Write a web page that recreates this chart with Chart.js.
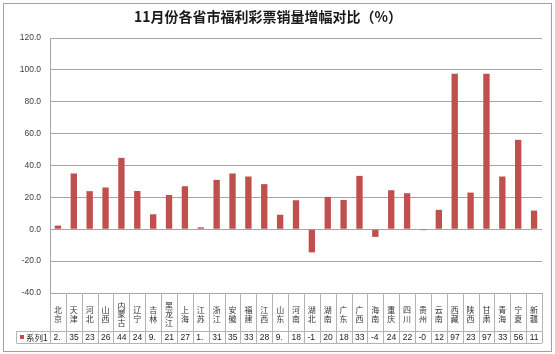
<!DOCTYPE html>
<html>
<head>
<meta charset="utf-8">
<title>11月份各省市福利彩票销量增幅对比</title>
<script src="https://cdn.jsdelivr.net/npm/chart.js@4/dist/chart.umd.min.js"></script>
<style>
    html, body { margin: 0; padding: 0; background: #fff; }
    #wrap { width: 555px; height: 354px; }
</style>
</head>
<body>
<div id="wrap"><canvas id="growthChart" width="555" height="354"></canvas></div>
<script>
// 차트 데이터
const chartTitle = '11月份各省市福利彩票销量增幅对比（%）';
const seriesName = '系列1';
const provinces = ['北京', '天津', '河北', '山西', '内蒙古', '辽宁', '吉林', '黑龙江', '上海', '江苏',
    '浙江', '安徽', '福建', '江西', '山东', '河南', '湖北', '湖南', '广东', '广西',
    '海南', '重庆', '四川', '贵州', '云南', '西藏', '陕西', '甘肃', '青海', '宁夏', '新疆'];
const growth = [2.3, 35.0, 23.9, 26.2, 44.8, 24.0, 9.4, 21.5, 27.0, 1.2,
    31.0, 35.0, 33.1, 28.3, 9.1, 18.2, -14.5, 20.3, 18.4, 33.5,
    -4.8, 24.5, 22.6, -0.6, 12.2, 97.6, 23.0, 97.5, 33.1, 56.1, 11.7];
const yTicks = [-40, -20, 0, 20, 40, 60, 80, 100, 120];

const barColor = '#c0504d';
const lineColor = '#a6a6a6';
const numFont = '"Liberation Sans", Arial, sans-serif';
const cjkFont = '"Noto Sans CJK SC", sans-serif';

// 아래쪽 데이터 표, 제목, 테두리 그리기
const dataTablePlugin = {
    id: 'dataTable',
    afterDraw(chart) {
        const c = chart.ctx;
        const area = chart.chartArea;
        const xScale = chart.scales.x;
        const top = area.bottom;
        const rowTop = xScale.bottom;
        const rowBottom = rowTop + 12;
        const cellW = (area.right - area.left) / provinces.length;
        const keyLeft = 16;

        c.save();
        c.strokeStyle = '#b4b4b4';
        c.lineWidth = 1;
        c.beginPath();
        for (let i = 0; i <= provinces.length; i++) {
            const px = Math.round(area.left + i * cellW) + 0.5;
            c.moveTo(px, top);
            c.lineTo(px, rowBottom);
        }
        c.moveTo(keyLeft + 0.5, rowTop + 0.5);
        c.lineTo(area.right, rowTop + 0.5);
        c.moveTo(keyLeft + 0.5, rowBottom + 0.5);
        c.lineTo(area.right, rowBottom + 0.5);
        c.moveTo(keyLeft + 0.5, rowTop);
        c.lineTo(keyLeft + 0.5, rowBottom);
        c.stroke();

        // 범례 칸
        c.fillStyle = barColor;
        c.fillRect(keyLeft + 4, rowTop + 4, 4, 4);
        c.fillStyle = '#222';
        c.font = '8.5px ' + cjkFont;
        c.textBaseline = 'middle';
        c.textAlign = 'left';
        c.fillText(seriesName, keyLeft + 10, rowTop + 6.5);

        // 값 (칸 너비에 맞게 잘라서 표시)
        c.font = '8.5px ' + numFont;
        growth.forEach((v, i) => {
            let txt = v.toFixed(1);
            while (txt.length > 1 && c.measureText(txt).width > cellW - 6) {
                txt = txt.slice(0, -1);
            }
            const px = xScale.getPixelForValue(i) - cellW / 2 + 3.5;
            c.fillText(txt, px, rowTop + 6.5);
        });

        // 제목
        c.font = 'bold 14px ' + cjkFont;
        c.textAlign = 'center';
        c.fillStyle = '#1a1a1a';
        c.fillText(chartTitle, 268, 17);

        // 바깥 테두리
        c.strokeStyle = '#a0a0a0';
        c.strokeRect(3.5, 3.5, 548, 348);
        c.restore();
    }
};

document.addEventListener('DOMContentLoaded', function() {
    const ctx = document.getElementById('growthChart').getContext('2d');
    new Chart(ctx, {
        type: 'bar',
        data: {
            labels: provinces,
            datasets: [{
                label: seriesName,
                data: growth,
                backgroundColor: barColor,
                categoryPercentage: 1,
                barPercentage: 0.4
            }]
        },
        options: {
            responsive: false,
            animation: false,
            layout: {
                padding: { top: 38, right: 13, bottom: 23, left: 0 }
            },
            scales: {
                x: {
                    grid: { display: false },
                    border: { display: false },
                    afterFit: function(scale) { scale.height = 38; },
                    ticks: {
                        autoSkip: false,
                        maxRotation: 0,
                        crossAlign: 'center',
                        padding: 5,
                        color: '#333',
                        font: { family: cjkFont, size: 8, lineHeight: 1.05 },
                        callback: function(value, index) {
                            return provinces[index].split('');
                        }
                    }
                },
                y: {
                    min: yTicks[0],
                    max: yTicks[yTicks.length - 1],
                    afterFit: function(scale) { scale.width = 50; },
                    grid: { color: lineColor, drawTicks: false },
                    border: { color: lineColor },
                    ticks: {
                        stepSize: yTicks[1] - yTicks[0],
                        padding: 9,
                        color: '#404040',
                        font: { family: numFont, size: 8.5 },
                        callback: function(value) {
                            return value.toFixed(1);
                        }
                    }
                }
            },
            plugins: {
                legend: { display: false },
                tooltip: { enabled: false }
            }
        },
        plugins: [dataTablePlugin]
    });
});
</script>
</body>
</html>
